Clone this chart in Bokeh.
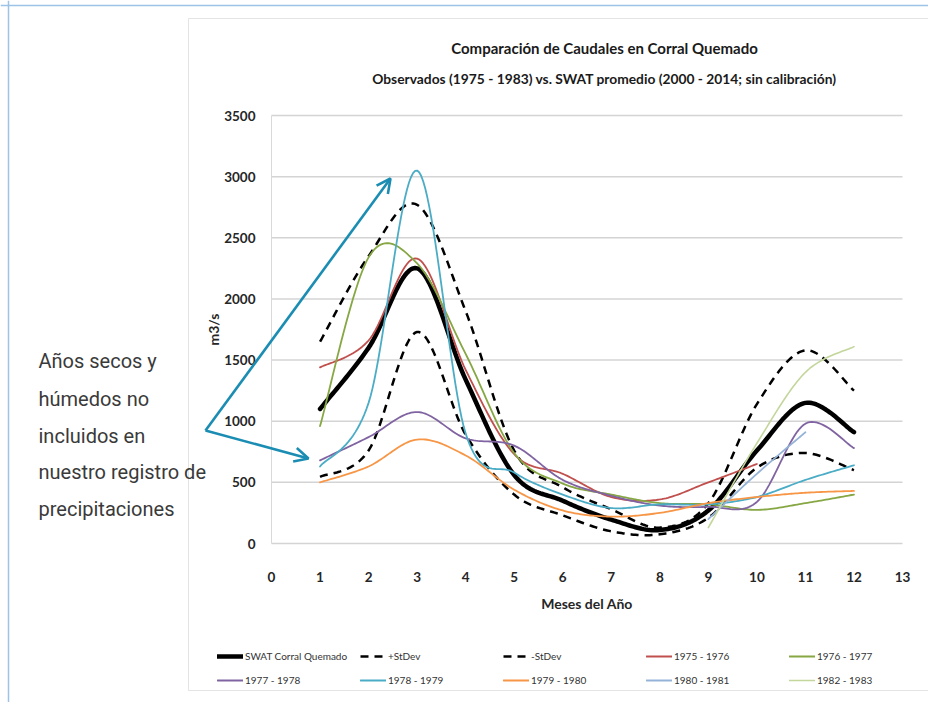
import numpy as np
from bokeh.plotting import figure
from bokeh.models import (Range1d, FixedTicker, Label, Arrow, OpenHead, Legend,
                          LegendItem, PolyAnnotation, LinearAxis, Span)
from bokeh.embed import file_html
from bokeh.resources import INLINE

nan = float("nan")

# ---------------- data ----------------
months = [1, 2, 3, 4, 5, 6, 7, 8, 9, 10, 11, 12]
swat = [1100, 1600, 2250, 1340, 560, 350, 195, 110, 270, 760, 1150, 910]
plus_sd = [1650, 2350, 2770, 1900, 760, 460, 280, 130, 330, 1140, 1580, 1250]
minus_sd = [545, 760, 1730, 890, 400, 230, 100, 75, 210, 620, 740, 600]
y1975 = [1440, 1660, 2330, 1420, 730, 570, 380, 360, 500, 650, nan, nan]
y1976 = [960, 2340, 2290, 1550, 740, 490, 400, 330, 320, 275, 330, 400]
y1977 = [680, 870, 1075, 860, 800, 520, 390, 310, 300, 340, 980, 780]
y1978 = [630, 1150, 3050, 900, 580, 400, 290, 320, 320, 380, 520, 640]
y1979 = [500, 630, 850, 720, 440, 270, 220, 250, 330, 380, 415, 430]
y1980 = [nan, nan, nan, nan, nan, nan, nan, nan, 200, 570, 910, nan]
y1982 = [nan, nan, nan, nan, nan, nan, nan, nan, 130, 820, 1400, 1610]

x_ticks = list(range(0, 14))
y_ticks = [0, 500, 1000, 1500, 2000, 2500, 3000, 3500]

title1 = "Comparación de Caudales en Corral Quemado"
title2 = "Observados (1975 - 1983) vs. SWAT promedio (2000 - 2014; sin calibración)"
note_lines = ["Años secos y", "húmedos no", "incluidos en",
              "nuestro registro de", "precipitaciones"]

# ---------------- layout helpers (page pixels -> data) ----------------
W, H = 928, 702
OX, OY = 0, 0                      # page offset of the canvas
P_LEFT, P_RIGHT, P_TOP, P_BOT = 271, 902, 115, 543   # page px of the plot area


def X(px):
    return (px - P_LEFT) * 13.0 / (P_RIGHT - P_LEFT)


def Y(py):
    return (P_BOT - py) * 3500.0 / (P_BOT - P_TOP)


def smooth(xs, ys, n=24):
    P = np.array([(x, y) for x, y in zip(xs, ys) if not np.isnan(y)], float)
    if len(P) < 3:
        return P[:, 0], P[:, 1]
    out = [P[0]]
    t = np.linspace(0, 1, n + 1)[1:]
    for i in range(len(P) - 1):
        p0 = P[i - 1] if i > 0 else P[i]
        p1, p2 = P[i], P[i + 1]
        p3 = P[i + 2] if i + 2 < len(P) else P[i + 1]
        c1 = p1 + (p2 - p0) / 6.0
        c2 = p2 - (p3 - p1) / 6.0
        for tt in t:
            out.append((1 - tt) ** 3 * p1 + 3 * (1 - tt) ** 2 * tt * c1
                       + 3 * (1 - tt) * tt ** 2 * c2 + tt ** 3 * p2)
    out = np.array(out)
    return out[:, 0], out[:, 1]


FONT = "Lato"
NOTE_FONT = "Roboto"
TXT = "#262626"

p = figure(width=W, height=H, title=None,
           x_range=Range1d(X(OX), X(OX + W)), y_range=Range1d(Y(OY + H), Y(OY)),
           output_backend="svg", toolbar_location=None,
           x_axis_type=None, y_axis_type=None,
           min_border_left=0, min_border_right=0, min_border_top=0, min_border_bottom=0)
p.outline_line_color = None
p.background_fill_color = "white"
p.border_fill_color = "white"
p.xgrid.visible = False
p.ygrid.visible = False

# gridlines over the plot area (0..13)
p.segment(x0=[x_ticks[0]] * len(y_ticks), x1=[x_ticks[-1]] * len(y_ticks),
          y0=y_ticks, y1=y_ticks, line_color="#d4d4d4", line_width=1.5)

# axes pinned to the plot area
yax = LinearAxis(fixed_location=0, bounds=(y_ticks[0], y_ticks[-1]),
                 ticker=FixedTicker(ticks=y_ticks), axis_label="m3/s")
xax = LinearAxis(fixed_location=0, bounds=(x_ticks[0], x_ticks[-1]),
                 ticker=FixedTicker(ticks=x_ticks), axis_label="Meses del Año")
for ax in (xax, yax):
    ax.major_tick_line_color = None
    ax.minor_tick_line_color = None
    ax.major_tick_out = 0
    ax.major_tick_in = 0
    ax.minor_tick_out = 0
    ax.minor_tick_in = 0
    ax.major_label_text_font = FONT
    ax.major_label_text_font_style = "bold"
    ax.major_label_text_font_size = "13.5px"
    ax.major_label_text_color = TXT
    ax.axis_label_text_font = FONT
    ax.axis_label_text_font_style = "bold"
    ax.axis_label_text_font_size = "14px"
    ax.axis_label_text_color = TXT
yax.axis_line_color = "#d9d9d9"
xax.axis_line_color = None
xax.major_label_standoff = 28
yax.major_label_standoff = 16
xax.axis_label_standoff = 10
yax.axis_label_standoff = -1
p.add_layout(yax, "left")
p.add_layout(xax, "below")

series = [
    ("SWAT Corral Quemado", swat, "black", 4.5, "solid"),
    ("+StDev", plus_sd, "black", 2.5, "8 6"),
    ("-StDev", minus_sd, "black", 2.5, "8 6"),
    ("1975 - 1976", y1975, "#c0504d", 1.8, "solid"),
    ("1976 - 1977", y1976, "#86a743", 1.8, "solid"),
    ("1977 - 1978", y1977, "#8064a2", 1.8, "solid"),
    ("1978 - 1979", y1978, "#4bacc6", 1.8, "solid"),
    ("1979 - 1980", y1979, "#f79646", 1.8, "solid"),
    ("1980 - 1981", y1980, "#95b3d7", 1.8, "solid"),
    ("1982 - 1983", y1982, "#c3d69b", 1.6, "solid"),
]

items = []
for name, ys, col, lw, dash in series:
    sx, sy = smooth(months, ys)
    r = p.line(sx, sy, line_color=col, line_width=lw, line_dash=dash,
               line_cap="round" if dash == "solid" else "butt", line_join="round")
    items.append(LegendItem(label=name, renderers=[r]))

legend = Legend(items=items, orientation="horizontal", ncols=5,
                location=(217 - OX, (OY + H) - 690),
                glyph_width=26, glyph_height=20, label_standoff=2,
                label_width=111, label_height=20, spacing=4, padding=0, margin=0,
                border_line_color=None, background_fill_alpha=0,
                label_text_font=FONT, label_text_font_size="10px",
                label_text_color="#333333")
p.add_layout(legend, "center")

# chart-area box and slide border
p.add_layout(PolyAnnotation(xs=[X(188), X(980), X(980), X(188)],
                            ys=[Y(18), Y(18), Y(690), Y(690)],
                            fill_alpha=0, line_color="#a6a6a6", line_width=1))
p.add_layout(Span(location=X(8), dimension="height", line_color="#9dc3e6", line_width=1.5))
p.add_layout(Span(location=Y(5), dimension="width", line_color="#9dc3e6", line_width=1.5))

# titles
for txt, yy, fs in [(title1, 47, "15px"), (title2, 78, "13.8px")]:
    p.add_layout(Label(x=X(604), y=Y(yy), text=txt, text_align="center",
                       text_baseline="middle", text_font=FONT, text_font_style="bold",
                       text_font_size=fs, text_color="#1a1a1a"))

# side note
baselines = [360.7, 398.0, 435.0, 471.8, 508.5]
for txt, b in zip(note_lines, baselines):
    p.add_layout(Label(x=X(38), y=Y(b), text=txt, text_align="left",
                       text_baseline="alphabetic", text_font=NOTE_FONT,
                       text_font_size="20px", text_color="#3a3a3a"))

# arrows
ARROW = "#1b8db3"
for ex, ey in [(390, 178), (308, 458)]:
    p.add_layout(Arrow(x_start=X(205), y_start=Y(430), x_end=X(ex), y_end=Y(ey),
                       line_color=ARROW, line_width=2.6,
                       end=OpenHead(size=14, line_color=ARROW, line_width=2.6)))

open("out.html", "w").write(file_html(p, INLINE))
